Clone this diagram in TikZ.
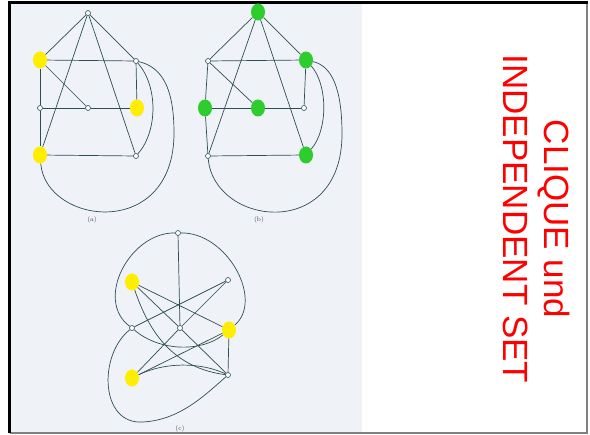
\documentclass[tikz,border=0pt]{standalone}
\usepackage{fontspec}
\usepackage{tikz}
\usetikzlibrary{shapes.geometric}
\newfontfamily\slidefont{Liberation Sans}

\definecolor{scanpaper}{RGB}{239,243,248}
\definecolor{inkline}{RGB}{45,78,82}
\definecolor{markyellow}{RGB}{255,238,0}
\definecolor{markgreen}{RGB}{45,205,45}

\begin{document}
\begin{tikzpicture}[
    x=1pt, y=-1pt,
    vertex/.style={circle, draw=inkline, fill=white, line width=0.6pt, inner sep=0pt, minimum size=5pt},
    yellowdot/.style={ellipse, fill=markyellow, inner sep=0pt, minimum width=14pt, minimum height=17pt},
    greendot/.style={yellowdot, fill=markgreen},
    edge/.style={draw=inkline, line width=0.7pt},
    caption/.style={font=\fontsize{6.5}{7}\selectfont, text=black!75},
    heading/.style={font=\slidefont\fontsize{35}{41}\selectfont, text=red, rotate=-90, align=center},
]
\useasboundingbox (0,0) rectangle (590,435);

% --- Slide frame and scanned page ---
\fill[scanpaper] (11,4) rectangle (362,432);
\draw[black!50, line width=2pt] (587,1.5) -- (587,433.5) -- (9.5,433.5);
\draw[black, line width=2.6pt] (9.5,433.5) -- (9.5,2.8) -- (588,2.8);

% --- Graph (a) ---
\node[vertex]    (aT)  at (88,13)  {};
\node[yellowdot] (aL1) at (40,60)  {};
\node[vertex]    (aR1) at (136,61) {};
\node[vertex]    (aML) at (40,108) {};
\node[vertex]    (aM)  at (88,108) {};
\node[yellowdot] (aMR) at (137,108) {};
\node[yellowdot] (aBL) at (40,155) {};
\node[vertex]    (aBR) at (136,156) {};
\node[caption]   (capA) at (92,220) {(a)};

% --- Graph (b) ---
\node[greendot]  (bT)  at (258,12)  {};
\node[vertex]    (bL1) at (208,61)  {};
\node[greendot]  (bR1) at (306,60)  {};
\node[greendot]  (bML) at (205,108) {};
\node[greendot]  (bM)  at (258,108) {};
\node[vertex]    (bMR) at (304,108) {};
\node[vertex]    (bBL) at (208,156) {};
\node[greendot]  (bBR) at (306,155) {};
\node[caption]   (capB) at (259,220) {(b)};

% --- Edges of (a) and (b) ---
\foreach \g in {a,b} {
  \draw[edge] (\g T) -- (\g L1);
  \draw[edge] (\g T) -- (\g R1);
  \draw[edge] (\g T) -- (\g BL);
  \draw[edge] (\g T) -- (\g BR);
  \draw[edge] (\g L1) -- (\g R1);
  \draw[edge] (\g L1) -- (\g ML);
  \draw[edge] (\g ML) -- (\g BL);
  \draw[edge] (\g L1) -- (\g M);
  \draw[edge] (\g ML) -- (\g M);
  \draw[edge] (\g M) -- (\g MR);
  \draw[edge] (\g R1) -- (\g MR);
  \draw[edge] (\g BL) -- (\g BR);
  \draw[edge] (\g R1) .. controls +(22,25) and +(22,-25) .. (\g BR);
  \draw[edge] (\g BL) .. controls +(6,70) and +(0,108) .. ++(134,-22)
                      .. controls +(0,-45) and +(26,6) .. (\g R1);
}

% --- Graph (c) ---
\node[vertex]    (cT)  at (178,233) {};
\node[yellowdot] (cUL) at (132,282) {};
\node[vertex]    (cUR) at (228,280) {};
\node[vertex]    (cL)  at (132,328) {};
\node[vertex]    (cC)  at (180,328) {};
\node[yellowdot] (cR)  at (229,330) {};
\node[yellowdot] (cLL) at (132,378) {};
\node[vertex]    (cLR) at (228,375) {};
\node[caption]   (capC) at (180,429) {(c)};

% --- Edges of (c) ---
\draw[edge] (cT) -- (cC);
\draw[edge] (cT) .. controls (130,232) and (94,300) .. (cL);
\draw[edge] (cT) .. controls (227,232) and (264,300) .. (cR);
\draw[edge] (cUL) -- (cC);
\draw[edge] (cC) -- (cLR);
\draw[edge] (cUR) -- (cC);
\draw[edge] (cC) -- (cLL);
\draw[edge] (cUL) -- (cR);
\draw[edge] (cUR) -- (cL);
\draw[edge] (cUL) .. controls (150,335) and (175,368) .. (cLR);
\draw[edge] (cL) .. controls (160,352) and (202,352) .. (cR);
\draw[edge] (cLL) -- (cR);
\draw[edge] (cLL) .. controls (165,362) and (200,362) .. (cLR);
\draw[edge] (cR) -- (cLR);
\draw[edge] (cL) .. controls (98,355) and (100,425) .. (143,422)
                 .. controls (180,420) and (205,395) .. (cLR);

% --- Slide title ---
\node[heading] (title) at (537,219) {CLIQUE und\\INDEPENDENT SET};

\end{tikzpicture}
\end{document}
